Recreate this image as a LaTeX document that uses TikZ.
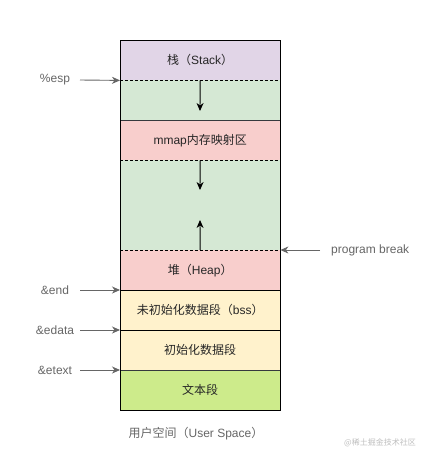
\documentclass[tikz,border=0pt]{standalone}
\usepackage{fontspec}
\setmainfont{Liberation Sans}
\newfontfamily\cjk{Noto Sans CJK SC}
\usetikzlibrary{arrows.meta}
\definecolor{cstack}{HTML}{E1D5E7}
\definecolor{cgreen}{HTML}{D5E8D4}
\definecolor{cpink}{HTML}{F8CECC}
\definecolor{cyel}{HTML}{FFF2CC}
\definecolor{ctext}{HTML}{CDEB8B}
\definecolor{clab}{HTML}{666666}
\definecolor{cline}{HTML}{36393D}
\tikzset{
  seg/.style={draw=none, minimum width=160pt, inner sep=0pt, anchor=north west, font=\fontsize{12}{14}\selectfont, text=black!85},
  lab/.style={font=\fontsize{12}{14}\selectfont, text=clab, inner sep=0pt},
  ptr/.style={draw=clab, line width=0.9pt, -{Stealth[length=8pt,width=7pt,inset=2.5pt]}},
  growarrow/.style={draw=black, line width=0.9pt, -{Stealth[length=8pt,width=7pt,inset=2.5pt]}},
  sep/.style={draw=black, line width=0.8pt},
  dsep/.style={draw=black, line width=0.8pt, dash pattern=on 3pt off 2pt},
}
\begin{document}
\begin{tikzpicture}[x=1pt,y=-1pt]
\useasboundingbox (0,0) rectangle (432,461);
\fill[white] (0,0) rectangle (432,461);
% segments
\node[seg, fill=cstack, minimum height=40pt] (stack) at (120,40) {{\cjk 栈（}Stack{\cjk ）}};
\node[seg, fill=cgreen, minimum height=40pt] (gap1) at (120,80) {};
\node[seg, fill=cpink, minimum height=40pt] (mmap) at (120,120) {mmap{\cjk 内存映射区}};
\node[seg, fill=cgreen, minimum height=90pt] (gap2) at (120,160) {};
\node[seg, fill=cpink, minimum height=40pt] (heap) at (120,250) {{\cjk 堆（}Heap{\cjk ）}};
\node[seg, fill=cyel, minimum height=40pt] (bss) at (120,290) {{\cjk 未初始化数据段（}bss{\cjk ）}};
\node[seg, fill=cyel, minimum height=40pt] (data) at (120,330) {{\cjk 初始化数据段}};
\node[seg, fill=ctext, minimum height=40pt] (text) at (120,370) {{\cjk 文本段}};
% separators
\draw[dsep] (stack.south west) -- (stack.south east);
\draw[sep, draw=cline] (mmap.north west) -- (mmap.north east);
\draw[dsep] (mmap.south west) -- (mmap.south east);
\draw[dsep] (heap.north west) -- (heap.north east);
\draw[sep] (bss.north west) -- (bss.north east);
\draw[sep] (data.north west) -- (data.north east);
\draw[sep, draw=cline] (text.north west) -- (text.north east);
\draw[sep] (stack.north west) rectangle (text.south east);
% growth arrows
\coordinate (g1) at (200,111);
\coordinate (g2) at (200,190);
\coordinate (g3) at (200,220);
\draw[growarrow] (stack.south) -- (g1);
\draw[growarrow] (mmap.south) -- (g2);
\draw[growarrow] (heap.north) -- (g3);
% pointer labels
\node[lab] (esp) at (55,80) {\%esp};
\node[lab] (end) at (55,290) {\&end};
\node[lab] (edata) at (55,330) {\&edata};
\node[lab] (etext) at (55,370) {\&etext};
\node[lab, anchor=west] (pbrk) at (331,250) {program break};
\coordinate (pesp) at (80,80);
\coordinate (pend) at (80,290);
\coordinate (pedata) at (80,330);
\coordinate (petext) at (80,370);
\coordinate (ppb) at (320,250);
\draw[ptr] (pesp) -- (stack.south west);
\draw[ptr] (pend) -- (bss.north west);
\draw[ptr] (pedata) -- (data.north west);
\draw[ptr] (petext) -- (text.north west);
\draw[ptr] (ppb) -- (heap.north east);
% caption
\node[lab] (cap) at (196,434) {{\cjk 用户空间（}User Space{\cjk ）}};
\node[text=black!25, font=\cjk\fontsize{8}{10}\selectfont, inner sep=0pt] (wm) at (380,443) {@稀土掘金技术社区};
\end{tikzpicture}
\end{document}
